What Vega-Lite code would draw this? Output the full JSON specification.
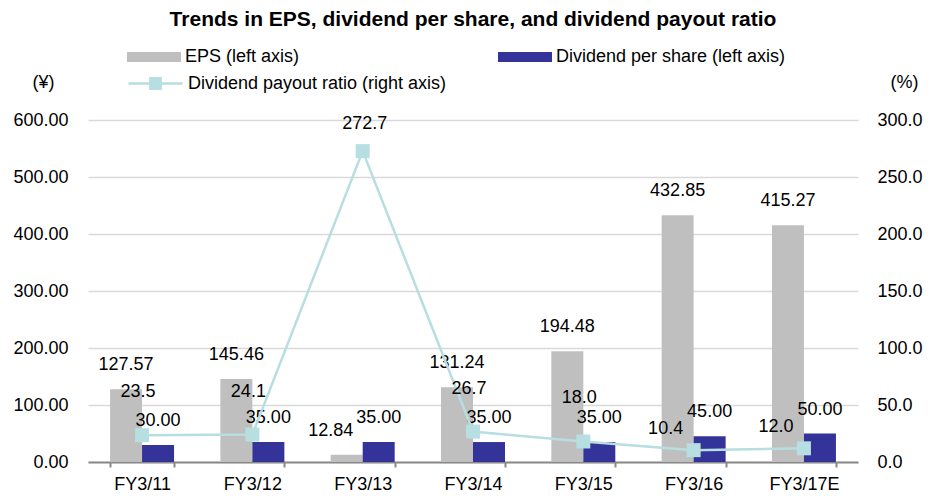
{
  "$schema": "https://vega.github.io/schema/vega-lite/v6.json",
  "width": 770,
  "height": 342,
  "autosize": {"type": "none"},
  "padding": {"left": 88, "top": 120, "right": 82, "bottom": 39},
  "background": "white",
  "title": {
    "text": "Trends in EPS, dividend per share, and dividend payout ratio",
    "font": "Liberation Sans",
    "fontSize": 21,
    "fontWeight": "bold",
    "color": "#000000",
    "anchor": "middle",
    "frame": "group",
    "dy": 4
  },
  "config": {
    "view": {"stroke": null},
    "font": "Liberation Sans",
    "axis": {"labelFont": "Liberation Sans", "labelColor": "#000000", "titleFont": "Liberation Sans", "titleColor": "#000000"},
    "legend": {"labelFont": "Liberation Sans", "labelColor": "#000000"}
  },
  "datasets": {
    "bars": [
      {"fy": "FY3/11", "series": "EPS (left axis)", "value": 127.57},
      {"fy": "FY3/12", "series": "EPS (left axis)", "value": 145.46},
      {"fy": "FY3/13", "series": "EPS (left axis)", "value": 12.84},
      {"fy": "FY3/14", "series": "EPS (left axis)", "value": 131.24},
      {"fy": "FY3/15", "series": "EPS (left axis)", "value": 194.48},
      {"fy": "FY3/16", "series": "EPS (left axis)", "value": 432.85},
      {"fy": "FY3/17E", "series": "EPS (left axis)", "value": 415.27},
      {"fy": "FY3/11", "series": "Dividend per share (left axis)", "value": 30},
      {"fy": "FY3/12", "series": "Dividend per share (left axis)", "value": 35},
      {"fy": "FY3/13", "series": "Dividend per share (left axis)", "value": 35},
      {"fy": "FY3/14", "series": "Dividend per share (left axis)", "value": 35},
      {"fy": "FY3/15", "series": "Dividend per share (left axis)", "value": 35},
      {"fy": "FY3/16", "series": "Dividend per share (left axis)", "value": 45},
      {"fy": "FY3/17E", "series": "Dividend per share (left axis)", "value": 50}
    ],
    "ratio": [
      {"fy": "FY3/11", "ratio": 23.5},
      {"fy": "FY3/12", "ratio": 24.1},
      {"fy": "FY3/13", "ratio": 272.7},
      {"fy": "FY3/14", "ratio": 26.7},
      {"fy": "FY3/15", "ratio": 18.0},
      {"fy": "FY3/16", "ratio": 10.4},
      {"fy": "FY3/17E", "ratio": 12.0}
    ]
  },
  "layer": [
    {
      "data": {"name": "bars"},
      "encoding": {
        "x": {
          "field": "fy", "type": "nominal",
          "sort": ["FY3/11", "FY3/12", "FY3/13", "FY3/14", "FY3/15", "FY3/16", "FY3/17E"],
          "scale": {"paddingInner": 0.42},
          "axis": {"title": null, "labelAngle": 0, "labelFontSize": 18, "labelPadding": 8, "domainColor": "#898989", "domainWidth": 2, "tickColor": "#898989", "tickWidth": 2, "tickSize": 5, "tickBand": "extent", "grid": false}
        },
        "xOffset": {"field": "series", "type": "nominal", "sort": ["EPS (left axis)", "Dividend per share (left axis)"], "scale": {"paddingInner": 0, "paddingOuter": 0}},
        "y": {
          "field": "value", "type": "quantitative",
          "scale": {"domain": [0, 600], "nice": false},
          "axis": {"orient": "left", "values": [0, 100, 200, 300, 400, 500, 600], "format": ".2f", "grid": true, "gridColor": "#d9d9d9", "gridWidth": 1.5, "domain": false, "ticks": false, "labelFontSize": 18, "labelPadding": 20, "title": "(¥)", "titleAngle": 0, "titleX": -45, "titleY": -38, "titleAlign": "center", "titleBaseline": "middle", "titleFontSize": 18, "titleFontWeight": "normal"}
        }
      },
      "layer": [
        {
          "mark": {"type": "bar"},
          "encoding": {
            "fill": {
              "field": "series", "type": "nominal",
              "scale": {"domain": ["EPS (left axis)", "Dividend per share (left axis)"], "range": ["#bfbfbf", "#333399"]},
              "legend": {"title": null, "orient": "none", "legendX": 39, "legendY": -90, "direction": "horizontal", "columns": 2, "columnPadding": 198, "symbolType": "M-1,-0.185H1V0.185H-1Z", "symbolSize": 2916, "symbolStrokeWidth": 0, "labelFontSize": 18, "labelOffset": 4, "labelLimit": 400}
            }
          }
        },
        {
          "mark": {"type": "text", "dx": {"expr": "datum.value < 20 ? -16 : 0"}, "dy": -24, "fontSize": 18, "color": "#000000"},
          "encoding": {"text": {"field": "value", "type": "quantitative", "format": ".2f"}}
        }
      ]
    },
    {
      "data": {"name": "ratio"},
      "encoding": {
        "x": {
          "field": "fy", "type": "nominal",
          "sort": ["FY3/11", "FY3/12", "FY3/13", "FY3/14", "FY3/15", "FY3/16", "FY3/17E"],
          "scale": {"paddingInner": 0.42},
          "axis": {"title": null, "labelAngle": 0, "labelFontSize": 18, "labelPadding": 8, "domainColor": "#898989", "domainWidth": 2, "tickColor": "#898989", "tickWidth": 2, "tickSize": 5, "tickBand": "extent", "grid": false}
        },
        "y": {
          "field": "ratio", "type": "quantitative",
          "scale": {"domain": [0, 300], "nice": false},
          "axis": {"orient": "right", "values": [0, 50, 100, 150, 200, 250, 300], "format": ".1f", "grid": false, "domain": false, "ticks": false, "labelFontSize": 18, "labelPadding": 19, "title": "(%)", "titleAngle": 0, "titleX": 46, "titleY": -38, "titleAlign": "center", "titleBaseline": "middle", "titleFontSize": 18, "titleFontWeight": "normal"}
        }
      },
      "layer": [
        {
          "mark": {"type": "line", "strokeWidth": 2.5},
          "encoding": {
            "stroke": {
              "datum": "Dividend payout ratio (right axis)", "type": "nominal",
              "scale": {"range": ["#b7dee0"]},
              "legend": {"title": null, "orient": "none", "legendX": 39, "legendY": -65, "symbolType": "M-1,0H1M-0.19,-0.19H0.19V0.19H-0.19Z", "symbolSize": 2916, "symbolStrokeWidth": 2.5, "symbolFillColor": "#b7dee0", "labelFontSize": 18, "labelOffset": 4, "labelLimit": 400}
            }
          }
        },
        {
          "mark": {"type": "point", "shape": "square", "filled": true, "size": 196, "color": "#b7dee0", "opacity": 1}
        },
        {
          "mark": {"type": "text", "dx": {"expr": "datum.ratio < 15 ? -28 : datum.ratio > 100 ? 2 : -4"}, "dy": {"expr": "datum.ratio < 15 ? -21 : datum.ratio > 100 ? -27 : -43"}, "fontSize": 18, "color": "#000000"},
          "encoding": {"text": {"field": "ratio", "type": "quantitative", "format": ".1f"}}
        }
      ]
    }
  ],
  "resolve": {"scale": {"y": "independent"}}
}
